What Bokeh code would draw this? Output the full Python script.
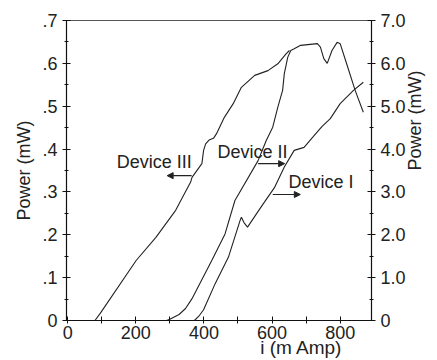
from math import pi
from bokeh.plotting import figure
from bokeh.models import (Range1d, LinearAxis, FixedTicker, CustomJSTickFormatter,
                          Label, Arrow, NormalHead)
from bokeh.embed import file_html
from bokeh.resources import INLINE

# ---- data ----
device_iii_x = [80, 95, 201, 259, 317, 361, 365, 394, 399, 405, 415, 428, 437, 460, 486,
                510, 549, 588, 617, 641, 651]
device_iii_y = [0.0, 0.016, 0.14, 0.194, 0.257, 0.323, 0.334, 0.366, 0.397, 0.412, 0.421,
                0.425, 0.436, 0.474, 0.506, 0.544, 0.572, 0.583, 0.599, 0.622, 0.63]

device_ii_x = [290, 300, 327, 346, 365, 423, 462, 491, 559, 583, 602, 617, 631, 636, 646,
               655, 665, 684, 733, 742, 752, 762, 776, 791, 800, 819, 844, 868]
device_ii_y = [0.0, 0.003, 0.014, 0.028, 0.051, 0.14, 0.202, 0.28, 0.373, 0.42, 0.451,
               0.498, 0.537, 0.576, 0.614, 0.63, 0.634, 0.642, 0.646, 0.638, 0.611, 0.600,
               0.63, 0.649, 0.646, 0.599, 0.537, 0.486]

device_i_x = [372, 385, 399, 433, 472, 506, 510, 518, 528, 568, 607, 636, 665, 694, 724,
              747, 771, 800, 839, 868]
device_i_y = [0.0, 0.01, 0.025, 0.086, 0.148, 0.233, 0.241, 0.228, 0.218, 0.265, 0.31,
              0.358, 0.397, 0.404, 0.432, 0.453, 0.471, 0.506, 0.537, 0.556]

x_ticks = [0, 200, 400, 600, 800]
x_minor = [100, 300, 500, 700]
left_ticks = [0, 0.1, 0.2, 0.3, 0.4, 0.5, 0.6, 0.7]
left_minor = [0.05, 0.15, 0.25, 0.35, 0.45, 0.55, 0.65]
right_ticks = [0, 1, 2, 3, 4, 5, 6, 7]
right_minor = [0.5, 1.5, 2.5, 3.5, 4.5, 5.5, 6.5]
x_title = "i (m Amp)"
y_title = "Power (mW)"

FONT = "Liberation Sans"
TXT = "#222222"

p = figure(width=437, height=360, output_backend="svg", toolbar_location=None,
           x_range=Range1d(-3.5, 892), y_range=Range1d(0, 0.7),
           x_axis_type=None, y_axis_type=None,
           min_border_left=66, min_border_right=62, min_border_top=20, min_border_bottom=40)
p.extra_y_ranges = {"right": Range1d(0, 7)}
p.outline_line_color = "#555555"
p.outline_line_width = 1
p.background_fill_color = "white"
p.border_fill_color = "white"


def style(ax):
    ax.axis_line_color = "#111111"
    ax.axis_line_width = 1.2
    ax.major_tick_line_color = "#111111"
    ax.minor_tick_line_color = "#111111"
    ax.major_tick_in = 4
    ax.major_tick_out = 4
    ax.minor_tick_in = 2
    ax.minor_tick_out = 2
    ax.major_label_text_font = FONT
    ax.major_label_text_font_size = "18px"
    ax.major_label_text_color = TXT
    ax.axis_label_text_font = FONT
    ax.axis_label_text_font_size = "18px"
    ax.axis_label_text_font_style = "normal"
    ax.axis_label_text_color = TXT


def title_axis(ax, size):
    # an axis that only carries a title, written as its single tick label
    ax.axis_line_color = None
    ax.major_tick_line_color = None
    ax.minor_tick_line_color = None
    ax.major_tick_in = 0
    ax.major_tick_out = 0
    ax.major_label_text_font = FONT
    ax.major_label_text_font_size = size
    ax.major_label_text_color = TXT


xaxis = LinearAxis(ticker=FixedTicker(ticks=x_ticks, minor_ticks=x_minor))
style(xaxis)
xaxis.minor_tick_in = 4
xaxis.minor_tick_out = 3
xaxis.major_tick_out = 3
xaxis.major_label_standoff = 2
p.add_layout(xaxis, "below")

xtitle = LinearAxis(ticker=FixedTicker(ticks=[686]),
                    formatter=CustomJSTickFormatter(code="return '%s';" % x_title))
title_axis(xtitle, "19px")
xtitle.major_label_standoff = -5
p.add_layout(xtitle, "below")

laxis = LinearAxis(ticker=FixedTicker(ticks=left_ticks, minor_ticks=left_minor),
                   formatter=CustomJSTickFormatter(
                       code="return tick == 0 ? '0' : tick.toFixed(1).replace(/^0/, '');"),
                   axis_label=y_title)
style(laxis)
laxis.major_label_standoff = 5
laxis.axis_label_standoff = 5
p.add_layout(laxis, "left")

raxis = LinearAxis(y_range_name="right",
                   ticker=FixedTicker(ticks=right_ticks, minor_ticks=right_minor),
                   formatter=CustomJSTickFormatter(
                       code="return tick == 0 ? '0' : tick.toFixed(1);"),
                   axis_label=y_title)
style(raxis)
raxis.major_label_standoff = 5
raxis.axis_label_standoff = 6
raxis.axis_label_text_line_height = 0.3
try:
    raxis.axis_label_orientation = pi / 2
except Exception:
    pass
p.add_layout(raxis, "right")

for xs, ys in [(device_iii_x, device_iii_y), (device_ii_x, device_ii_y),
               (device_i_x, device_i_y)]:
    p.line(xs, ys, line_color="#222222", line_width=1.1)

# device labels
for txt, x, y in [("Device III", 144, 0.37), ("Device II", 440, 0.394),
                  ("Device I", 648, 0.323)]:
    p.add_layout(Label(x=x, y=y, text=txt, text_font=FONT, text_font_size="18px",
                       text_color=TXT, text_align="left", text_baseline="middle"))

# arrows (indicate which axis to read)
for xs, xe, y in [(364, 292, 0.338), (559, 637, 0.366), (602, 683, 0.294)]:
    p.add_layout(Arrow(x_start=xs, y_start=y, x_end=xe, y_end=y, line_width=1.2,
                       line_color="#222222",
                       end=NormalHead(size=6, fill_color="#222222", line_color="#222222")))

open("out.html", "w").write(file_html(p, INLINE))
